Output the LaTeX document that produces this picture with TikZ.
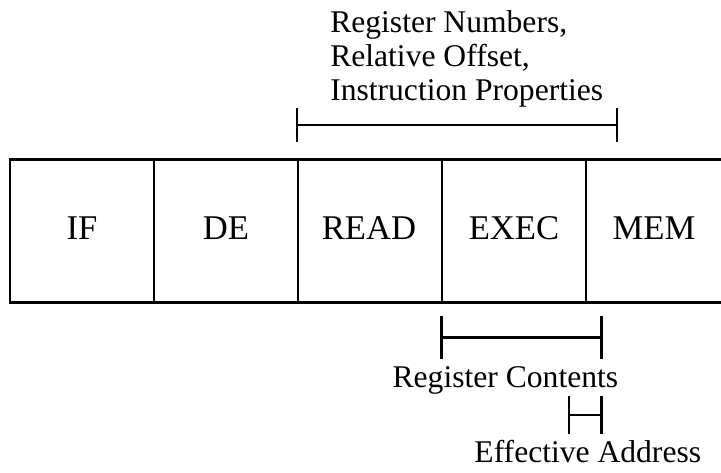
\documentclass[tikz,border=0pt]{standalone}
\usepackage{fontspec}
\setmainfont{Liberation Serif}
\begin{document}
\begin{tikzpicture}[x=0.75pt,y=-0.75pt,
  rule/.style={line width=2pt,line cap=rect},
  stagename/.style={inner sep=0pt,font=\fontsize{26}{30}\selectfont},
  note/.style={inner sep=0pt,font=\fontsize{23.7}{25.5}\selectfont}]
\useasboundingbox (0,0) rectangle (721,473);

% pipeline strip, open on the right
\coordinate (tl) at (10,159.5);
\coordinate (bl) at (10,302.5);
\draw[rule] (721,159.5) -- (tl) -- (bl) -- (721,302.5);
\foreach \x in {154,298,442,586}
  \draw[rule] (\x,159.5) -- (\x,302.5);

% stage names
\node[stagename] (if)   at (82,228)  {IF};
\node[stagename] (de)   at (226,228) {DE};
\node[stagename] (read) at (369,228) {READ};
\node[stagename] (exec) at (514,228) {EXEC};
\node[stagename] (mem)  at (654,228) {MEM};

% span above READ/EXEC
\coordinate (a1) at (297,125);
\coordinate (a2) at (617,125);
\draw[rule] (a1) -- (a2);
\draw[rule] ([yshift=-12pt]a1) -- ([yshift=12pt]a1);
\draw[rule] ([yshift=-12pt]a2) -- ([yshift=12pt]a2);
\node[note,align=left,anchor=north west] (upper) at (330,10.5)
  {Register Numbers,\\Relative Offset,\\Instruction Properties};

% span below EXEC
\coordinate (b1) at (441.5,337.5);
\coordinate (b2) at (601.5,337.5);
\draw[rule] (b1) -- (b2);
\draw[rule] ([yshift=-15pt]b1) -- ([yshift=15pt]b1);
\draw[rule] ([yshift=-15pt]b2) -- ([yshift=15pt]b2);
\node[note,anchor=base] (contents) at (505.4,388) {Register Contents};

% short span at the end of EXEC
\coordinate (c1) at (569,415);
\coordinate (c2) at (601.5,415);
\draw[rule] (c1) -- (c2);
\draw[rule] ([yshift=-13pt]c1) -- ([yshift=13pt]c1);
\draw[rule] ([yshift=-13pt]c2) -- ([yshift=13pt]c2);
\node[note,anchor=base] (address) at (587.8,463) {Effective Address};
\end{tikzpicture}
\end{document}
